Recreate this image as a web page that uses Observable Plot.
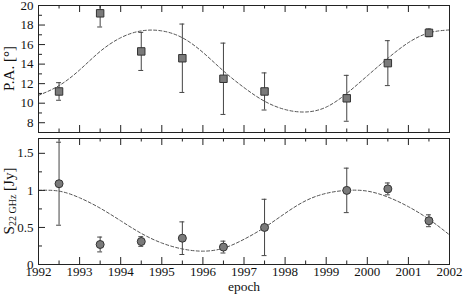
<!DOCTYPE html>
<html><head><meta charset="utf-8">
<script src="https://cdn.jsdelivr.net/npm/d3@7"></script>
<script src="https://cdn.jsdelivr.net/npm/@observablehq/plot@0.6"></script>
<style>
body{margin:0;background:#fff;}
#chart{position:relative;width:463px;height:294px;font-family:"Liberation Serif","Times New Roman",serif;}
#chart svg{position:absolute;left:0;}
</style></head><body><div id="chart"></div>
<script>
// ---- data ----
const epochs = [1992.5, 1993.5, 1994.5, 1995.5, 1996.5, 1997.5, 1999.5, 2000.5, 2001.5];
const paValues = [11.2, 19.2, 15.3, 14.6, 12.5, 11.2, 10.5, 14.1, 17.2];
const paErrors = [0.9, 1.4, 1.95, 3.5, 3.65, 1.9, 2.35, 2.3, 0.4];
const fluxValues = [1.09, 0.27, 0.31, 0.355, 0.235, 0.50, 1.0, 1.02, 0.59];
const fluxErrors = [0.56, 0.10, 0.065, 0.22, 0.08, 0.38, 0.30, 0.08, 0.08];

const modelEpochs = [1992, 1992.5, 1993, 1993.5, 1994, 1994.5, 1995, 1995.5, 1996, 1996.5, 1997,
  1997.5, 1998, 1998.5, 1999, 1999.5, 2000, 2000.5, 2001, 2001.5, 2002];
const paModel = [10.8, 11.8, 13.4, 15.3, 16.7, 17.4, 17.4, 16.7, 15.2, 13.3, 11.6,
  10.2, 9.35, 9.1, 9.6, 11.0, 12.8, 14.6, 16.2, 17.2, 17.5];
const fluxModel = [1.0, 0.99, 0.90, 0.76, 0.59, 0.42, 0.29, 0.21, 0.18, 0.22, 0.34,
  0.50, 0.69, 0.86, 0.96, 1.0, 0.99, 0.91, 0.78, 0.61, 0.40];

const yearTicks = [1992, 1993, 1994, 1995, 1996, 1997, 1998, 1999, 2000, 2001, 2002];
const halfYearTicks = [1992.5, 1993.5, 1994.5, 1995.5, 1996.5, 1997.5, 1998.5, 1999.5, 2000.5, 2001.5];
const paMajorTicks = [8, 10, 12, 14, 16, 18, 20];
const paMinorTicks = [9, 11, 13, 15, 17, 19];
const fluxMajorTicks = [0, 0.5, 1, 1.5];
const fluxMinorTicks = [0.25, 0.75, 1.25];

const xLabel = "epoch";
const paLabel = "P.A. [°]";
const fluxLabelMain = "S", fluxLabelSub = "22 GHz", fluxLabelUnit = " [Jy]";

// ---- build ----
const W = 463, ML = 38, MR = 14;
const innerW = W - ML - MR;
const ink = "#222";
const SVGNS = "http://www.w3.org/2000/svg";

function panel({height, marginTop, marginBottom, yDomain, rows, model, symbol, majors, minors, showX}) {
  const innerH = height - marginTop - marginBottom;
  const marks = [
    Plot.line(model, {x: "epoch", y: "value", curve: "natural", stroke: "#555", strokeWidth: 1, strokeDasharray: "3,2.2"}),
    Plot.ruleX(rows, {x: "epoch", y1: d => d.value - d.err, y2: d => d.value + d.err, stroke: "#444", strokeWidth: 1, clip: true}),
    Plot.ruleY(rows, {y: d => d.value + d.err, x1: d => d.epoch - 0.06, x2: d => d.epoch + 0.06, stroke: "#444", clip: true}),
    Plot.ruleY(rows, {y: d => d.value - d.err, x1: d => d.epoch - 0.06, x2: d => d.epoch + 0.06, stroke: "#444", clip: true}),
    Plot.dot(rows, {x: "epoch", y: "value", symbol, r: symbol === "square" ? 4.2 : 4, fill: "#7a7a7a", stroke: "#333", strokeWidth: 1}),
    // inward ticks
    Plot.tickX(yearTicks, {x: d => d, insetTop: innerH - 7, stroke: ink}),
    Plot.tickX(halfYearTicks, {x: d => d, insetTop: innerH - 3.5, stroke: ink}),
    Plot.tickX(yearTicks, {x: d => d, insetBottom: innerH - 7, stroke: ink}),
    Plot.tickX(halfYearTicks, {x: d => d, insetBottom: innerH - 3.5, stroke: ink}),
    Plot.tickY(majors, {y: d => d, insetRight: innerW - 7, stroke: ink}),
    Plot.tickY(minors, {y: d => d, insetRight: innerW - 4, stroke: ink}),
    Plot.axisY({ticks: majors, tickSize: 0, tickPadding: 5, label: null, fontSize: 13, tickFormat: d => String(d)}),
    Plot.frame({stroke: ink, strokeWidth: 1})
  ];
  if (showX) {
    marks.push(Plot.axisX({ticks: yearTicks, tickSize: 0, tickPadding: 2, label: null, fontSize: 13, tickFormat: d => String(d)}));
    marks.push(Plot.text([xLabel], {frameAnchor: "bottom", dy: 22, lineAnchor: "middle", fontSize: 13.5, fill: "#111"}));
  }
  return Plot.plot({
    width: W, height, marginTop, marginBottom, marginLeft: ML, marginRight: MR,
    x: {domain: [1992, 2002], axis: showX ? undefined : null},
    y: {domain: yDomain},
    style: {fontFamily: '"Liberation Serif","Times New Roman",serif', fontSize: "13px", background: "transparent", color: "#111", overflow: "visible"},
    marks
  });
}

const paRows = epochs.map((e, i) => ({epoch: e, value: paValues[i], err: paErrors[i]}));
const fluxRows = epochs.map((e, i) => ({epoch: e, value: fluxValues[i], err: fluxErrors[i]}));
const paModelRows = modelEpochs.map((e, i) => ({epoch: e, value: paModel[i]}));
const fluxModelRows = modelEpochs.map((e, i) => ({epoch: e, value: fluxModel[i]}));

const topPanel = panel({height: 135, marginTop: 5, marginBottom: 3, yDomain: [7, 20], rows: paRows, model: paModelRows,
  symbol: "square", majors: paMajorTicks, minors: paMinorTicks, showX: false});
const bottomPanel = panel({height: 159, marginTop: 3, marginBottom: 30, yDomain: [0, 1.7], rows: fluxRows, model: fluxModelRows,
  symbol: "circle", majors: fluxMajorTicks, minors: fluxMinorTicks, showX: true});

function makeYLabel(plotH, mt, mb) {
  const t = document.createElementNS(SVGNS, "text");
  const cy = mt + (plotH - mt - mb) / 2;
  t.setAttribute("transform", `translate(9,${cy}) rotate(-90)`);
  t.setAttribute("text-anchor", "middle");
  t.setAttribute("dominant-baseline", "central");
  t.setAttribute("font-size", "15");
  t.setAttribute("fill", "#111");
  t.setAttribute("font-family", '"Liberation Serif","Times New Roman",serif');
  return t;
}
const tl = makeYLabel(135, 5, 3);
tl.textContent = paLabel;
topPanel.appendChild(tl);
const bl = makeYLabel(159, 3, 30);
const s1 = document.createElementNS(SVGNS, "tspan"); s1.textContent = fluxLabelMain;
const s2 = document.createElementNS(SVGNS, "tspan"); s2.textContent = fluxLabelSub; s2.setAttribute("font-size", "10"); s2.setAttribute("dy", "3");
const s3 = document.createElementNS(SVGNS, "tspan"); s3.textContent = fluxLabelUnit; s3.setAttribute("dy", "-3");
bl.append(s1, s2, s3);
bottomPanel.appendChild(bl);

topPanel.style.top = "0px";
bottomPanel.style.top = "135px";
document.getElementById("chart").append(topPanel, bottomPanel);
</script></body></html>
